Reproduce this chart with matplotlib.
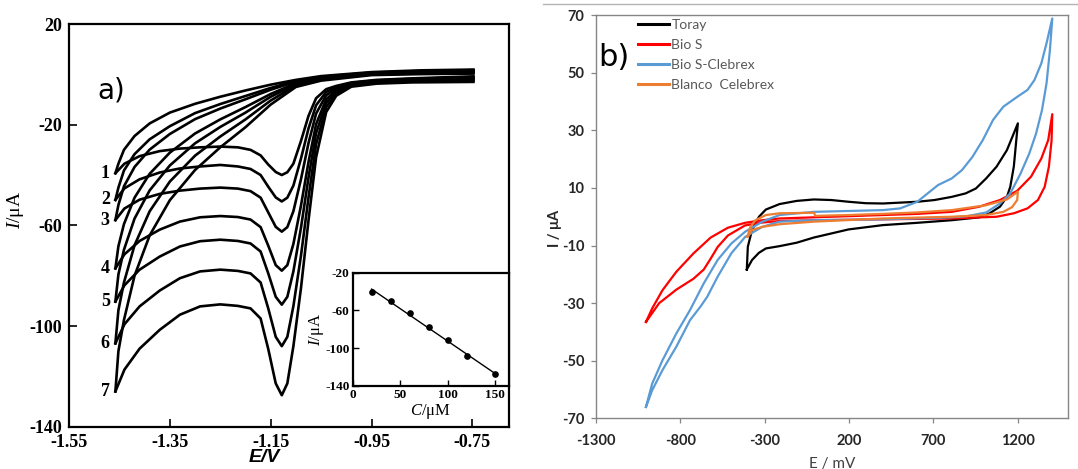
import numpy as np
import matplotlib.pyplot as plt
from matplotlib.lines import Line2D

plt.rcParams['axes.unicode_minus'] = False
plt.rcParams['mathtext.fontset'] = 'custom'
plt.rcParams['mathtext.rm'] = 'Liberation Serif'
plt.rcParams['mathtext.it'] = 'Liberation Serif:italic'
plt.rcParams['mathtext.bf'] = 'Liberation Serif:bold'

# ---- panel a) : voltammograms at 7 concentrations ----
# forward sweep (left -> right), upper branch
E_fwd = [-1.458, -1.452, -1.441, -1.42, -1.39, -1.35, -1.30, -1.25, -1.20, -1.15,
         -1.10, -1.05, -0.95, -0.85, -0.748]
I_fwd = [
    [-39.3, -35.5, -30.0, -24.5, -19.5, -15.2, -11.7, -8.9, -6.4, -4.1, -2.2, -0.7, 0.9, 1.6, 1.9],
    [-49.9, -45.0, -38.2, -31.7, -25.8, -20.6, -15.4, -11.8, -8.6, -5.4, -2.6, -1.0, 0.7, 1.35, 1.65],
    [-57.9, -51.9, -44.5, -36.8, -29.9, -23.7, -17.8, -13.6, -9.9, -6.1, -2.9, -1.2, 0.55, 1.15, 1.4],
    [-77.1, -68.3, -59.5, -49.0, -39.5, -31.1, -23.5, -17.9, -13.0, -7.8, -3.5, -1.5, 0.35, 0.9, 1.15],
    [-90.3, -79.5, -69.7, -57.3, -46.1, -36.2, -27.4, -20.9, -15.2, -8.9, -3.9, -1.8, 0.15, 0.65, 0.9],
    [-106.9, -93.7, -82.7, -67.9, -54.4, -42.6, -32.3, -24.7, -17.9, -10.4, -4.4, -2.1, -0.05, 0.4, 0.6],
    [-126.0, -110.0, -97.6, -80.0, -64.0, -50.0, -38.0, -29.0, -21.0, -12.0, -5.0, -2.5, -0.3, 0.1, 0.3],
]
# reverse sweep (right -> left), lower branch with the reduction peak
E_rev = [-0.748, -0.87, -0.94, -0.99, -1.02, -1.04, -1.06, -1.075, -1.09, -1.105, -1.117,
         -1.128, -1.14, -1.155, -1.17, -1.19, -1.215, -1.25, -1.29, -1.33, -1.37, -1.41,
         -1.44, -1.458]
I_rev = [
    [-0.8, -1.6, -2.2, -3.2, -4.6, -5.9, -9.5, -16.5, -26.5, -35.5, -38.9, -40.0, -38.8,
     -35.8, -32.2, -30.0, -29.0, -28.7, -29.0, -29.5, -30.5, -32.5, -35.5, -39.3],
    [-1.1, -1.8, -2.4, -3.4, -5.1, -7.0, -12.3, -21.5, -33.5, -44.2, -49.0, -50.5, -48.9,
     -44.6, -40.0, -37.6, -36.6, -36.0, -36.6, -37.4, -39.0, -41.7, -45.3, -49.9],
    [-1.4, -2.0, -2.6, -3.6, -5.6, -8.3, -15.6, -27.3, -41.7, -54.4, -60.7, -62.5, -60.6,
     -54.8, -49.0, -46.4, -45.4, -45.0, -45.4, -46.2, -47.5, -49.8, -53.3, -57.9],
    [-1.8, -2.3, -2.9, -4.0, -6.3, -9.9, -19.8, -34.8, -52.2, -67.4, -75.8, -78.0, -75.8,
     -68.0, -60.7, -57.7, -56.7, -56.3, -56.8, -58.5, -61.7, -66.2, -71.5, -77.1],
    [-2.2, -2.5, -3.1, -4.2, -6.9, -11.3, -23.4, -41.0, -61.0, -78.3, -88.4, -91.5, -88.4,
     -79.0, -70.4, -67.2, -66.2, -65.7, -66.3, -68.4, -72.4, -77.6, -83.8, -90.3],
    [-2.6, -2.85, -3.4, -4.5, -7.6, -13.0, -27.8, -48.9, -72.1, -92.1, -104.3, -108.0, -104.3,
     -92.9, -82.7, -79.1, -78.1, -77.6, -78.3, -81.0, -85.9, -92.2, -99.3, -106.9],
    [-3.0, -3.2, -3.7, -4.9, -8.5, -15.0, -33.0, -58.0, -85.0, -108.0, -122.8, -127.5, -122.8,
     -109.0, -97.0, -93.0, -92.0, -91.4, -92.2, -95.5, -101.5, -109.0, -117.3, -126.0],
]
curve_labels = ['1', '2', '3', '4', '5', '6', '7']

# calibration inset
conc = [20, 40, 60, 80, 100, 120, 150]
peak_current = [-40.0, -50.5, -62.5, -78.0, -91.5, -108.0, -127.5]

# ---- panel b) : cyclic voltammograms ----
toray_E = [-406, -400, -375, -334, -293, -212, -110, -8, 95, 197, 299, 401, 503, 605, 707, 809,
           891, 952, 1013, 1075, 1136, 1201, 1177, 1156, 1136, 1095, 1034, 973, 809, 605, 401,
           197, 95, -8, -110, -212, -293, -334, -375, -406]
toray_I = [-18.3, -10.4, -4.6, 0.0, 2.5, 4.4, 5.5, 6.0, 5.8, 5.2, 4.7, 4.6, 4.9, 5.2, 5.8, 6.9,
           8.1, 9.8, 13.3, 17.4, 23.1, 32.4, 17.4, 10.4, 6.9, 3.5, 1.2, -0.2, -1.2, -2.1, -2.9,
           -4.4, -5.8, -7.2, -9.0, -10.2, -11.0, -12.5, -15.0, -18.3]

bios_E = [-1004, -967, -906, -824, -722, -620, -518, -416, -314, -212, -8, 197, 401, 605, 809,
          973, 1095, 1197, 1279, 1340, 1381, 1405, 1401, 1385, 1360, 1320, 1258, 1177, 1075,
          809, 401, -8, -212, -314, -416, -518, -579, -620, -661, -722, -824, -926, -1004]
bios_I = [-36.5, -31.8, -25.5, -19.1, -12.7, -7.2, -3.8, -2.1, -1.2, -0.6, -0.2, 0.2, 0.6, 1.0,
          1.7, 3.5, 5.8, 9.0, 13.9, 20.2, 26.6, 35.6, 26.6, 17.4, 10.4, 5.8, 2.9, 1.2, 0.0,
          -0.6, -0.9, -1.2, -1.5, -2.0, -3.0, -6.5, -10.5, -14.5, -18.3, -21.5, -25.3, -30.0,
          -36.5]

celebrex_E = [-1004, -967, -906, -824, -743, -661, -579, -498, -416, -314, -212, -8, 197, 401,
              503, 605, 666, 728, 809, 870, 932, 993, 1054, 1115, 1197, 1258, 1299, 1340, 1371,
              1405, 1391, 1371, 1344, 1309, 1269, 1217, 1156, 1095, 1013, 900, 809, 401, -8,
              -212, -314, -416, -498, -579, -641, -681, -743, -824, -906, -967, -1004]
celebrex_I = [-66.0, -57.9, -49.8, -40.5, -32.4, -23.1, -15.0, -9.3, -5.2, -1.7, 0.6, 1.7, 2.0,
              2.3, 2.9, 5.2, 8.1, 11.0, 13.3, 16.2, 20.8, 26.6, 33.6, 38.2, 41.6, 44.0, 47.4,
              53.2, 60.2, 68.8, 57.8, 46.3, 37.0, 28.9, 22.0, 15.0, 8.1, 4.6, 1.5, 0.2, -0.2,
              -0.9, -1.2, -1.7, -3.5, -7.0, -12.7, -20.8, -27.8, -31.2, -35.9, -45.1, -53.2,
              -60.2, -66.0]

blanco_E = [-402, -385, -355, -293, -212, -8, 0, 197, 401, 605, 809, 1013, 1136, 1201, 1197,
            1166, 1115, 1013, 809, 401, -8, -212, -314, -375, -402]
blanco_I = [-6.9, -3.5, -1.2, 0.6, 1.2, 1.4, 0.3, 0.6, 1.0, 1.5, 2.3, 4.0, 6.0, 8.7, 5.8, 3.3,
            1.7, 0.6, 0.0, -0.6, -1.7, -2.6, -3.5, -4.6, -6.9]

series_b = [
    ('Toray', toray_E, toray_I, '#000000'),
    ('Bio S', bios_E, bios_I, '#ff0000'),
    ('Bio S-Clebrex', celebrex_E, celebrex_I, '#5b9bd5'),
    ('Blanco  Celebrex', blanco_E, blanco_I, '#ed7d31'),
]

fig = plt.figure(figsize=(10.78, 4.69), dpi=100)

serif_bold = dict(family='Liberation Serif', weight='bold')

# ---------------- panel a ----------------
ax1 = fig.add_axes([0.0640, 0.0902, 0.4079, 0.8586])
for k in range(len(I_fwd)):
    ax1.plot(E_fwd, I_fwd[k], color='black', lw=1.9, solid_joinstyle='round')
    ax1.plot(E_rev, I_rev[k], color='black', lw=1.9, solid_joinstyle='round')
    ax1.text(-1.478, I_rev[k][-1], curve_labels[k], ha='center', va='center',
             fontsize=13, **serif_bold)

ax1.set_xlim(-1.55, -0.678)
ax1.set_ylim(-140, 20)
ax1.set_xticks([-1.55, -1.35, -1.15, -0.95, -0.75])
ax1.set_xticklabels(['-1.55', '-1.35', '-1.15', '-0.95', '-0.75'])
ax1.set_yticks([20, -20, -60, -100, -140])
ax1.tick_params(direction='in', length=6, width=1.2, labelsize=13, pad=5)
for lab in ax1.get_xticklabels() + ax1.get_yticklabels():
    lab.set_fontfamily('Liberation Serif')
    lab.set_fontweight('bold')
for sp in ax1.spines.values():
    sp.set_linewidth(1.6)
ax1.set_ylabel('$I$/μA', fontsize=14, family='Liberation Serif')
ax1.yaxis.set_label_coords(-0.097, 0.538)
ax1.text(0.097, 0.835, 'a)', transform=ax1.transAxes, fontsize=20,
         family='DejaVu Sans', ha='center', va='center')
fig.text(264 / 1078, 1 - 449 / 469, 'E/V', ha='center', va='top', fontsize=14,
         family='Liberation Sans', weight='bold', style='italic')

# inset: peak current vs concentration
axin = fig.add_axes([0.3270, 0.1770, 0.1449, 0.2416])
axin.plot(conc, peak_current, 'o', color='black', ms=3.8)
slope, icpt = np.polyfit(conc, peak_current, 1)
fit_x = np.array([conc[0], conc[-1]])
axin.plot(fit_x, slope * fit_x + icpt, color='black', lw=1.0)
axin.set_xlim(0, 164)
axin.set_ylim(-140, -20)
axin.set_xticks([0, 50, 100, 150])
axin.set_yticks([-20, -60, -100, -140])
axin.tick_params(direction='in', length=4, width=1.0, labelsize=9.5, pad=2)
for lab in axin.get_xticklabels() + axin.get_yticklabels():
    lab.set_fontfamily('Liberation Serif')
    lab.set_fontweight('bold')
for sp in axin.spines.values():
    sp.set_linewidth(1.6)
axin.set_xlabel('$C$/μM', fontsize=12, family='Liberation Serif', labelpad=1)
axin.set_ylabel('$I$/μA', fontsize=12, family='Liberation Serif')
axin.yaxis.set_label_coords(-0.17, 0.5)

# ---------------- panel b ----------------
ax2 = fig.add_axes([0.5529, 0.1077, 0.4381, 0.8603])
for name, E, I, c in series_b:
    ax2.plot(E, I, color=c, lw=1.6, label=name, solid_joinstyle='round')
ax2.set_xlim(-1300, 1500)
ax2.set_ylim(-70, 70)
ax2.set_xticks([-1300, -800, -300, 200, 700, 1200])
ax2.set_yticks(list(range(-70, 71, 20)))
ax2.tick_params(direction='out', length=3.5, width=0.9, color='#868686',
                labelsize=10.5, labelcolor='#262626')
ax2.tick_params(axis='x', pad=8)
ax2.tick_params(axis='y', pad=5)
for lab in ax2.get_xticklabels() + ax2.get_yticklabels():
    lab.set_fontfamily('Lato')
    lab.set_fontweight('bold')
for sp in ax2.spines.values():
    sp.set_color('#868686')
    sp.set_linewidth(1.0)
ax2.set_xlabel('E / mV', fontsize=11, family='Lato', color='#404040')
ax2.xaxis.set_label_coords((832 - 596) / 472.3, -0.095)
ax2.set_ylabel('I / μA', fontsize=10.5, family='Lato', weight='bold', color='#262626')
ax2.yaxis.set_label_coords((562 - 596) / 472.3, 0.472)
ax2.text(614 / 1078, 1 - 57 / 469, 'b)', transform=fig.transFigure, fontsize=22,
         family='DejaVu Sans', ha='center', va='center')
leg = ax2.legend(loc='upper left', bbox_to_anchor=(638 / 1078, 1 - 19 / 469),
                 bbox_transform=fig.transFigure, frameon=False, borderpad=0,
                 borderaxespad=0, handlelength=2.2, handletextpad=0.2,
                 labelspacing=0.58, prop=dict(family='Lato', size=10))
for t in leg.get_texts():
    t.set_color('#595959')
for h in leg.get_lines():
    h.set_linewidth(2.2)

# thin frame line along the top of panel b
fig.add_artist(Line2D([543 / 1078, 1.0], [1 - 4 / 469, 1 - 4 / 469], color='#b4b4b4',
                      lw=1.0, transform=fig.transFigure))

fig.savefig('out.png', dpi=100)
